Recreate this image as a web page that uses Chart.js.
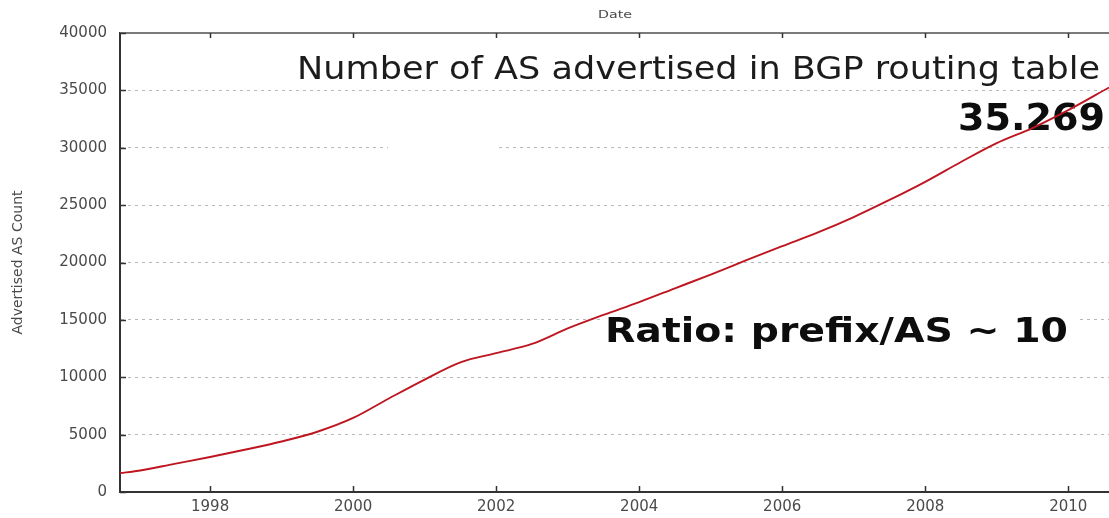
<!DOCTYPE html>
<html>
<head>
<meta charset="utf-8">
<script src="https://cdn.jsdelivr.net/npm/chart.js@4/dist/chart.umd.min.js"></script>
<style>
  html, body { margin: 0; padding: 0; background: #fff; }
  #wrap { width: 1109px; height: 518px; }
</style>
</head>
<body>
<div id="wrap"><canvas id="c" width="1109" height="518"></canvas></div>
<script>
// ---- data ----
const years  = [1996.74, 1997.0, 1997.5, 1998.0, 1998.5, 1999.0, 1999.5, 2000.0, 2000.5, 2001.0,
                2001.5, 2002.0, 2002.5, 2003.0, 2003.5, 2004.0, 2004.5, 2005.0, 2005.5, 2006.0,
                2006.5, 2007.0, 2007.5, 2008.0, 2008.5, 2009.0, 2009.5, 2010.0, 2010.57];
const asCounts = [1650, 1850, 2450, 3050, 3700, 4400, 5250, 6450, 8150, 9800,
                  11300, 12100, 12900, 14250, 15430, 16550, 17750, 18950, 20200, 21420,
                  22620, 23960, 25450, 27030, 28760, 30400, 31720, 33280, 35250];
const xTicks = [1998, 2000, 2002, 2004, 2006, 2008, 2010];
const yTicks = [0, 5000, 10000, 15000, 20000, 25000, 30000, 35000, 40000];
const xTitle = 'Date';
const yTitle = 'Advertised AS Count';
const headline = 'Number of AS advertised in BGP routing table';
const countLabel = '35.269';
const ratioLabel = 'Ratio: prefix/AS ~ 10';

const FONT = "'DejaVu Sans', Verdana, sans-serif";

function fitText(ctx, text, font, x, baseline, width, color) {
  ctx.save();
  ctx.font = font;
  const w = ctx.measureText(text).width;
  ctx.translate(x, baseline);
  ctx.scale(width / w, 1);
  ctx.fillStyle = color;
  ctx.textBaseline = 'alphabetic';
  ctx.textAlign = 'left';
  ctx.fillText(text, 0, 0);
  ctx.restore();
}

const overlay = {
  id: 'overlay',
  beforeDatasetsDraw(chart) {
    const ctx = chart.ctx;
    ctx.save();
    ctx.fillStyle = '#fff';
    ctx.fillRect(388, 141, 110, 14);   // white patch over 30000 grid line
    ctx.fillRect(600, 311, 478, 40);   // box behind ratio text
    ctx.restore();
    fitText(ctx, headline, '32px ' + FONT, 297, 79, 803, '#1c1c1c');
    fitText(ctx, countLabel, 'bold 37px ' + FONT, 958, 130, 147, '#0d0d0d');
    fitText(ctx, ratioLabel, 'bold 33px ' + FONT, 605, 342, 463, '#0d0d0d');
  },
  afterDraw(chart) {
    const ctx = chart.ctx;
    const a = chart.chartArea;
    const xs = chart.scales.x, ys = chart.scales.y;
    ctx.save();
    // top border
    ctx.strokeStyle = '#7a7a7a';
    ctx.lineWidth = 2;
    ctx.beginPath();
    ctx.moveTo(a.left, a.top);
    ctx.lineTo(a.right, a.top);
    ctx.stroke();
    // inward tick marks
    ctx.strokeStyle = '#333';
    ctx.lineWidth = 1.5;
    ctx.beginPath();
    xTicks.forEach(v => {
      const px = Math.round(xs.getPixelForValue(v)) + 0.5;
      ctx.moveTo(px, a.bottom); ctx.lineTo(px, a.bottom - 6);
      ctx.moveTo(px, a.top);    ctx.lineTo(px, a.top + 5);
    });
    yTicks.forEach(v => {
      const py = Math.round(ys.getPixelForValue(v)) + 0.5;
      ctx.moveTo(a.left, py); ctx.lineTo(a.left + 6, py);
    });
    ctx.stroke();
    ctx.restore();
    // x axis title at top
    fitText(ctx, xTitle, '11px ' + FONT, 598, 18, 34, '#4a4a4a');
  }
};

new Chart(document.getElementById('c'), {
  type: 'line',
  data: {
    datasets: [{
      label: 'Advertised AS Count',
      data: years.map((y, i) => ({ x: y, y: asCounts[i] })),
      borderColor: 'rgb(190,22,32)',
      borderWidth: 1.9,
      pointRadius: 0,
      cubicInterpolationMode: 'monotone',
      fill: false
    }]
  },
  options: {
    responsive: false,
    devicePixelRatio: 1,
    animation: false,
    layout: { padding: { top: 33, right: 0, bottom: 0, left: 0 } },
    plugins: { legend: { display: false }, tooltip: { enabled: false }, title: { display: false } },
    scales: {
      x: {
        type: 'linear',
        min: years[0],
        max: years[years.length - 1],
        afterFit(s) { s.height = 26; },
        afterBuildTicks(s) { s.ticks = xTicks.map(v => ({ value: v })); },
        grid: { display: false, drawTicks: false },
        border: { display: true, color: '#333', width: 2 },
        ticks: {
          includeBounds: false,
          autoSkip: false,
          maxRotation: 0,
          padding: 6,
          color: '#4a4a4a',
          font: { family: FONT, size: 15 },
          callback: v => String(v)
        }
      },
      y: {
        min: 0,
        max: 40000,
        afterFit(s) { s.width = 120; },
        afterBuildTicks(s) { s.ticks = yTicks.map(v => ({ value: v })); },
        grid: { color: '#b8b8b8', lineWidth: 1, drawTicks: false },
        border: { display: true, color: '#333', width: 2, dash: [3, 4] },
        title: {
          display: true,
          text: yTitle,
          color: '#4a4a4a',
          font: { family: FONT, size: 14 },
          padding: { top: 10, bottom: 0 }
        },
        ticks: {
          padding: 13,
          color: '#4a4a4a',
          font: { family: FONT, size: 15 },
          callback: v => String(v)
        }
      }
    }
  },
  plugins: [overlay]
});
</script>
</body>
</html>
